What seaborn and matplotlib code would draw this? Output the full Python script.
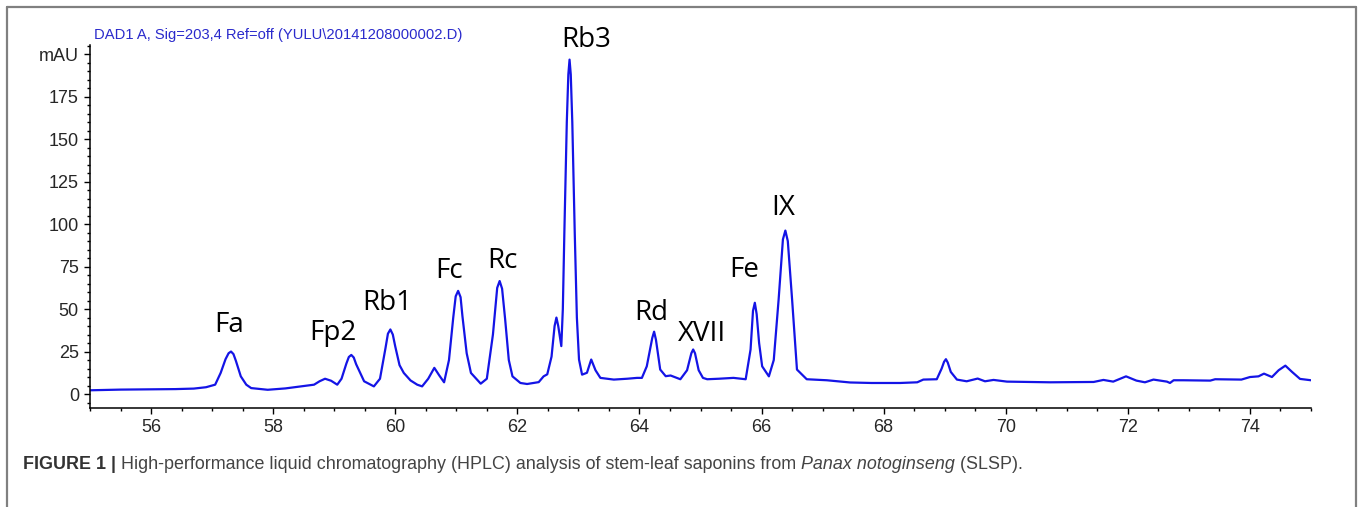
import matplotlib
matplotlib.use("Agg")
import matplotlib.pyplot as plt
from matplotlib.lines import Line2D
from matplotlib.ticker import MultipleLocator, FixedLocator, FuncFormatter
import pandas as pd
import seaborn as sns

# 色譜資料 (從圖上讀取的時間 / 訊號點)
TIME = [
    55.00, 55.50, 56.00, 56.40, 56.70, 56.90, 57.05, 57.14, 57.22, 57.27,
    57.31, 57.35, 57.39, 57.47, 57.56, 57.64, 57.91, 58.20, 58.45, 58.67,
    58.76, 58.85, 58.95, 59.05, 59.12, 59.20, 59.24, 59.28, 59.32, 59.36,
    59.49, 59.65, 59.75, 59.84, 59.88, 59.92, 59.96, 60.00, 60.07, 60.14,
    60.25, 60.36, 60.44, 60.54, 60.64, 60.72, 60.80, 60.88, 60.95, 60.99,
    61.03, 61.07, 61.10, 61.17, 61.24, 61.40, 61.50, 61.60, 61.67, 61.71,
    61.75, 61.80, 61.86, 61.92, 62.05, 62.16, 62.35, 62.43, 62.49, 62.56,
    62.61, 62.64, 62.67, 62.72, 62.745, 62.77, 62.81, 62.835, 62.855, 62.875,
    62.90, 62.94, 62.975, 63.01, 63.06, 63.14, 63.21, 63.28, 63.36, 63.58,
    63.80, 63.96, 64.04, 64.12, 64.21, 64.24, 64.27, 64.34, 64.43, 64.51,
    64.67, 64.78, 64.85, 64.88, 64.91, 64.97, 65.04, 65.11, 65.30, 65.54,
    65.74, 65.82, 65.86, 65.89, 65.92, 65.96, 66.01, 66.12, 66.20, 66.28,
    66.35, 66.39, 66.43, 66.50, 66.58, 66.74, 67.07, 67.45, 67.80, 68.27,
    68.55, 68.65, 68.87, 68.95, 68.99, 69.02, 69.05, 69.10, 69.20, 69.36,
    69.54, 69.66, 69.80, 70.02, 70.73, 71.44, 71.60, 71.76, 71.97, 72.14,
    72.28, 72.42, 72.64, 72.69, 72.75, 72.91, 73.35, 73.43, 73.86, 74.00,
    74.14, 74.23, 74.36, 74.47, 74.58, 74.69, 74.82, 75.00,
]
SIGNAL = [
    2.2, 2.6, 2.8, 2.9, 3.2, 4.0, 5.5, 12.4, 20.5, 24.0,
    25.0, 23.5, 19.5, 10.4, 5.5, 3.5, 2.5, 3.3, 4.5, 5.5,
    7.5, 9.0, 7.8, 5.5, 9.0, 18.0, 21.8, 23.0, 21.5, 17.5,
    7.5, 4.5, 9.0, 27.0, 35.5, 38.0, 35.0, 28.0, 17.0, 12.4,
    8.0, 5.5, 4.5, 9.0, 15.4, 11.0, 6.9, 20.0, 45.0, 57.5,
    60.7, 57.0, 46.0, 24.0, 12.4, 6.1, 9.0, 35.0, 62.5, 66.5,
    62.0, 44.0, 20.0, 10.4, 6.5, 5.9, 7.0, 10.4, 11.6, 22.0,
    40.0, 45.0, 40.0, 28.2, 50.0, 95.0, 160.0, 188.0, 196.8, 188.0,
    160.0, 95.0, 45.0, 20.3, 11.4, 12.5, 20.3, 14.0, 9.5, 8.5,
    9.0, 9.5, 9.5, 16.3, 33.0, 36.7, 32.0, 14.4, 10.5, 10.9,
    8.7, 14.0, 24.0, 26.2, 24.0, 14.0, 9.5, 8.7, 9.0, 9.5,
    8.7, 26.2, 49.0, 53.7, 47.0, 30.0, 16.3, 10.4, 20.0, 55.8,
    91.0, 96.2, 90.0, 55.8, 14.4, 8.7, 8.1, 6.8, 6.5, 6.5,
    6.9, 8.5, 8.7, 15.0, 19.0, 20.5, 18.5, 13.0, 8.5, 7.5,
    9.1, 7.5, 8.3, 7.3, 6.9, 7.1, 8.3, 7.3, 10.4, 7.9,
    6.9, 8.5, 7.3, 6.5, 8.1, 8.1, 7.9, 8.7, 8.5, 10.0,
    10.4, 12.0, 10.0, 14.0, 16.7, 13.0, 8.9, 8.1,
]

# 峰標籤
PEAK_NAMES = ["Fa", "Fp2", "Rb1", "Fc", "Rc", "Rb3", "Rd", "XVII", "Fe", "IX"]
PEAK_TIME = [57.28, 58.98, 59.87, 60.88, 61.75, 63.13, 64.19, 65.02, 65.71, 66.35]
PEAK_LABEL_Y = [36.6, 31.8, 49.4, 68.1, 74.0, 204.4, 43.6, 31.4, 68.7, 105.4]

Y_TICKS = [0, 25, 50, 75, 100, 125, 150, 175, 200]

HEADER = "DAD1 A, Sig=203,4 Ref=off (YULU\\20141208000002.D)"
CAPTION = [
    ("FIGURE 1 | ", "bold", "normal", "#333333"),
    ("High-performance liquid chromatography (HPLC) analysis of stem-leaf saponins from ",
     "normal", "normal", "#444444"),
    ("Panax notoginseng", "normal", "italic", "#444444"),
    (" (SLSP).", "normal", "normal", "#444444"),
]

W, H = 1360, 507
LINE_COLOR = "#1414e6"

sns.set_style("ticks")
plt.rcParams["font.family"] = ["Liberation Sans", "DejaVu Sans"]

fig = plt.figure(figsize=(W / 100, H / 100), dpi=100)
ax = fig.add_axes([90 / W, 1 - 408.3 / H, 1221 / W, (408.3 - 45) / H])

df = pd.DataFrame({"time": TIME, "signal": SIGNAL})
sns.lineplot(data=df, x="time", y="signal", ax=ax, color=LINE_COLOR,
             linewidth=1.6, sort=False, estimator=None)

ax.set_xlim(55, 75)
ax.set_ylim(-8.4, 205.4)
ax.set_xlabel("")
ax.set_ylabel("")

ax.xaxis.set_major_locator(MultipleLocator(2))
ax.xaxis.set_minor_locator(MultipleLocator(0.5))
ax.yaxis.set_major_locator(FixedLocator(Y_TICKS))
ax.yaxis.set_minor_locator(MultipleLocator(5))
ax.yaxis.set_major_formatter(FuncFormatter(lambda v, _: "mAU" if v == 200 else f"{v:.0f}"))

ax.tick_params(which="major", length=4, width=1.0, labelsize=13, color="black", pad=4)
ax.tick_params(which="minor", length=2.5, width=1.0, color="black")
sns.despine(ax=ax)
for side in ["left", "bottom"]:
    ax.spines[side].set_linewidth(1.1)
    ax.spines[side].set_color("black")

for name, t, y in zip(PEAK_NAMES, PEAK_TIME, PEAK_LABEL_Y):
    ax.text(t, y, name, ha="center", va="baseline", fontsize=20,
            family=["Open Sans", "DejaVu Sans"], color="black", clip_on=False)

fig.text(94.3 / W, 1 - 39.3 / H, HEADER, ha="left", va="baseline",
         fontsize=10.6, color="#2a2acc")

# 圖說 (分段畫出粗體/斜體)
renderer = fig.canvas.get_renderer()
x_px = 22.7
for text, weight, style, color in CAPTION:
    t = fig.text(x_px / W, 1 - 469 / H, text, ha="left", va="baseline",
                 fontsize=12.9, fontweight=weight, fontstyle=style, color=color,
                 family=["Liberation Sans", "DejaVu Sans"])
    bb = t.get_window_extent(renderer=renderer)
    x_px = bb.x1

# 外框
frame = dict(transform=fig.transFigure, color="#808080", linewidth=1.6)
fig.add_artist(Line2D([7 / W, 7 / W], [0, 1 - 6.5 / H], **frame))
fig.add_artist(Line2D([7 / W, 1355.7 / W], [1 - 6.5 / H, 1 - 6.5 / H], **frame))
fig.add_artist(Line2D([1355.7 / W, 1355.7 / W], [0, 1 - 6.5 / H], **frame))

fig.savefig("out.png", dpi=100)
plt.close(fig)
